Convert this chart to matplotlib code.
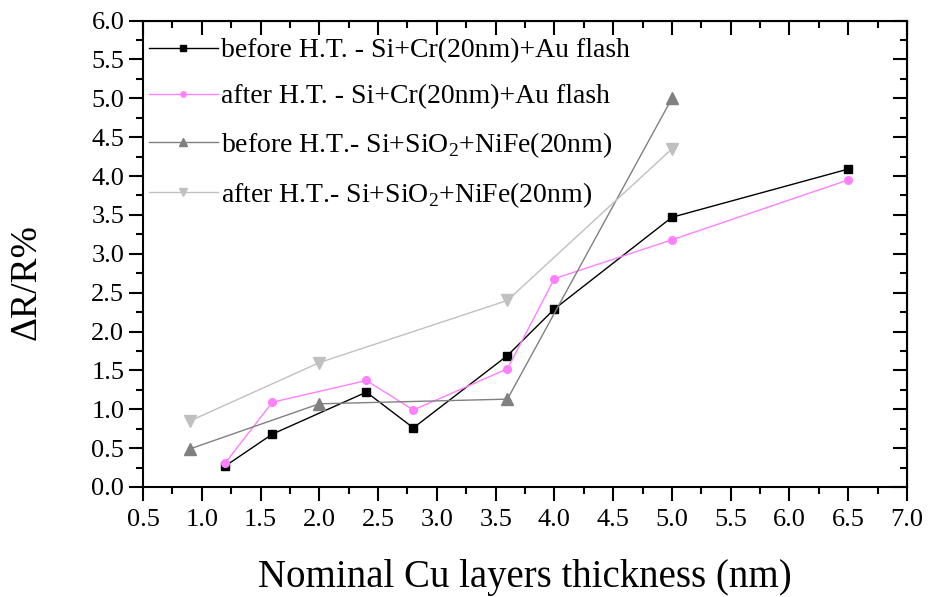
import matplotlib

matplotlib.use("Agg")
import matplotlib.pyplot as plt
from matplotlib.ticker import MultipleLocator, FormatStrFormatter

plt.rcParams["font.family"] = ["Liberation Serif", "DejaVu Serif"]
plt.rcParams["mathtext.fontset"] = "custom"
plt.rcParams["mathtext.rm"] = "Liberation Serif"

# Cr/Au substrate series
x_cr = [1.2, 1.6, 2.4, 2.8, 3.6, 4.0, 5.0, 6.5]
before_cr = [0.27, 0.68, 1.22, 0.76, 1.69, 2.29, 3.47, 4.09]
after_cr = [0.31, 1.09, 1.37, 0.99, 1.52, 2.68, 3.18, 3.95]

# SiO2/NiFe substrate series
x_nife = [0.9, 2.0, 3.6, 5.0]
before_nife = [0.49, 1.07, 1.13, 5.0]
after_nife = [0.85, 1.60, 2.40, 4.35]

labels = [
    "before H.T. - Si+Cr(20nm)+Au flash",
    "after H.T. - Si+Cr(20nm)+Au flash",
    r"before H.T.- Si+SiO$_2$+NiFe(20nm)",
    r"after H.T.- Si+SiO$_2$+NiFe(20nm)",
]

fig = plt.figure(figsize=(9.3, 5.97), dpi=100)
ax = fig.add_axes([0.1538, 0.1843, 0.8215, 0.7812])

ax.plot(x_cr, before_cr, color="black", lw=1.0, marker="s", ms=5.5, label=labels[0])
ax.plot(x_cr, after_cr, color="#ff80ff", lw=1.0, marker="o", ms=5.5, label=labels[1])
ax.plot(x_nife, before_nife, color="#808080", lw=1.0, marker="^", ms=8, label=labels[2])
ax.plot(x_nife, after_nife, color="#c0c0c0", lw=1.0, marker="v", ms=8, label=labels[3])

ax.set_xlim(0.5, 7.0)
ax.set_ylim(0.0, 6.0)
ax.xaxis.set_major_locator(MultipleLocator(0.5))
ax.xaxis.set_minor_locator(MultipleLocator(0.25))
ax.yaxis.set_major_locator(MultipleLocator(0.5))
ax.yaxis.set_minor_locator(MultipleLocator(0.25))
ax.xaxis.set_major_formatter(FormatStrFormatter("%.1f"))
ax.yaxis.set_major_formatter(FormatStrFormatter("%.1f"))

for s in ax.spines.values():
    s.set_linewidth(1.5)
ax.tick_params(which="both", direction="out", top=False, right=False, width=1.5, labelsize=19)
ax.tick_params(which="major", length=10)
ax.tick_params(which="minor", length=5)
ax.tick_params(axis="x", which="major", pad=6)

# inward ticks on top and right
sec_x = ax.secondary_xaxis("top")
sec_x.xaxis.set_major_locator(MultipleLocator(0.5))
sec_x.xaxis.set_minor_locator(MultipleLocator(0.25))
sec_x.tick_params(which="both", direction="in", width=1.5, labeltop=False)
sec_x.tick_params(which="major", length=10)
sec_x.tick_params(which="minor", length=5)
sec_y = ax.secondary_yaxis("right")
sec_y.yaxis.set_major_locator(MultipleLocator(0.5))
sec_y.yaxis.set_minor_locator(MultipleLocator(0.25))
sec_y.tick_params(which="both", direction="in", width=1.5, labelright=False)
sec_y.tick_params(which="major", length=10)
sec_y.tick_params(which="minor", length=5)

ax.set_xlabel("Nominal Cu layers thickness (nm)", fontsize=28, labelpad=20)
ax.set_ylabel("ΔR/R%", fontsize=27, va="center")
ax.yaxis.set_label_coords(-0.153, 0.44)

ax.legend(loc="upper left", bbox_to_anchor=(0.0, 0.975), fontsize=20, frameon=False,
          handlelength=2.5, borderaxespad=0.0, borderpad=0.2, labelspacing=0.74,
          handletextpad=0.1, markerscale=0.7)

fig.savefig("out.png", dpi=100)
